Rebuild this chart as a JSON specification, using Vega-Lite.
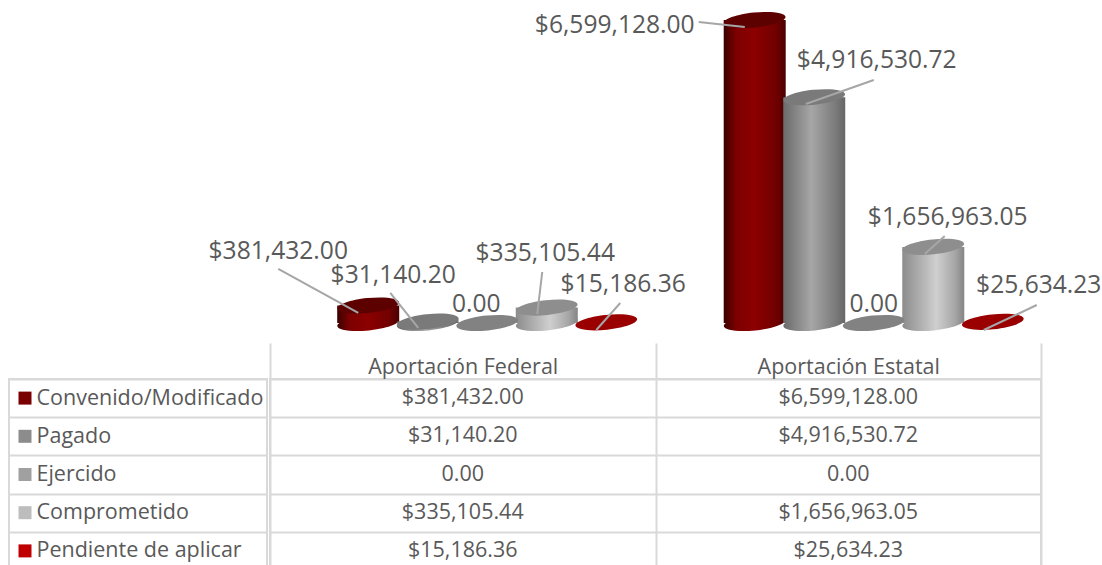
{"$schema":"https://vega.github.io/schema/vega-lite/v6.json","padding":0,"spacing":0,"background":"white","config":{"view":{"stroke":null},"font":"Open Sans","concat":{"spacing":0}},
"resolve":{"scale":{"color":"independent"}},
"datasets":{"d":[
{"group":"Aportación Federal","series":"Convenido/Modificado","value":381432.00,"label":"$381,432.00"},
{"group":"Aportación Federal","series":"Pagado","value":31140.20,"label":"$31,140.20"},
{"group":"Aportación Federal","series":"Ejercido","value":0,"label":"0.00"},
{"group":"Aportación Federal","series":"Comprometido","value":335105.44,"label":"$335,105.44"},
{"group":"Aportación Federal","series":"Pendiente de aplicar","value":15186.36,"label":"$15,186.36"},
{"group":"Aportación Estatal","series":"Convenido/Modificado","value":6599128.00,"label":"$6,599,128.00"},
{"group":"Aportación Estatal","series":"Pagado","value":4916530.72,"label":"$4,916,530.72"},
{"group":"Aportación Estatal","series":"Ejercido","value":0,"label":"0.00"},
{"group":"Aportación Estatal","series":"Comprometido","value":1656963.05,"label":"$1,656,963.05"},
{"group":"Aportación Estatal","series":"Pendiente de aplicar","value":25634.23,"label":"$25,634.23"}
]},
"data":{"name":"d"},
"vconcat":[
{"width":1102,"height":341,
"encoding":{
"x":{"field":"group","type":"nominal","axis":null,"sort":["Aportación Federal","Aportación Estatal"],"scale":{"range":[294,1067],"paddingInner":0.23,"paddingOuter":0.115}},
"y":{"field":"value","type":"quantitative","axis":null,"scale":{"domain":[-392200,7034600],"nice":false,"zero":false}}},
"layer":[
{"encoding":{"xOffset":{"field":"series","type":"nominal","sort":["Convenido/Modificado","Pagado","Ejercido","Comprometido","Pendiente de aplicar"],"scale":{"paddingInner":0,"paddingOuter":0}}},
"layer":[
{"transform":[{"filter":"datum.series=='Convenido/Modificado'"}],"layer":[
{"mark":{"type":"point","filled":true,"opacity":1,"size":3844,"shape":"M-0.995,0.105A1,0.24,-6,1,1,0.995,-0.105A1,0.24,-6,1,1,-0.995,0.105Z","fill":{"x1":0,"x2":1,"y1":0,"y2":0,"gradient":"linear","stops":[{"offset":0,"color":"#3a0000"},{"offset":0.2,"color":"#7d0000"},{"offset":0.5,"color":"#8c0000"},{"offset":0.85,"color":"#700000"},{"offset":1,"color":"#4a0000"}]}},"encoding":{"y":{"datum":0}}},
{"mark":{"type":"bar","width":62,"fill":{"x1":0,"x2":1,"y1":0,"y2":0,"gradient":"linear","stops":[{"offset":0,"color":"#3a0000"},{"offset":0.2,"color":"#7d0000"},{"offset":0.5,"color":"#8c0000"},{"offset":0.85,"color":"#700000"},{"offset":1,"color":"#4a0000"}]}},"encoding":{"y":{"field":"value","type":"quantitative","stack":null},"y2":{"datum":0}}}]},
{"transform":[{"filter":"datum.series=='Pagado'"}],"layer":[
{"mark":{"type":"point","filled":true,"opacity":1,"size":3844,"shape":"M-0.995,0.105A1,0.24,-6,1,1,0.995,-0.105A1,0.24,-6,1,1,-0.995,0.105Z","fill":{"x1":0,"x2":1,"y1":0,"y2":0,"gradient":"linear","stops":[{"offset":0,"color":"#6a6a6a"},{"offset":0.45,"color":"#a6a6a6"},{"offset":0.85,"color":"#7a7a7a"},{"offset":1,"color":"#666666"}]}},"encoding":{"y":{"datum":0}}},
{"mark":{"type":"bar","width":62,"fill":{"x1":0,"x2":1,"y1":0,"y2":0,"gradient":"linear","stops":[{"offset":0,"color":"#6a6a6a"},{"offset":0.45,"color":"#a6a6a6"},{"offset":0.85,"color":"#7a7a7a"},{"offset":1,"color":"#666666"}]}},"encoding":{"y":{"field":"value","type":"quantitative","stack":null},"y2":{"datum":0}}}]},
{"transform":[{"filter":"datum.series=='Comprometido'"}],"layer":[
{"mark":{"type":"point","filled":true,"opacity":1,"size":3844,"shape":"M-0.995,0.105A1,0.24,-6,1,1,0.995,-0.105A1,0.24,-6,1,1,-0.995,0.105Z","fill":{"x1":0,"x2":1,"y1":0,"y2":0,"gradient":"linear","stops":[{"offset":0,"color":"#8c8c8c"},{"offset":0.55,"color":"#cfcfcf"},{"offset":0.85,"color":"#a6a6a6"},{"offset":1,"color":"#858585"}]}},"encoding":{"y":{"datum":0}}},
{"mark":{"type":"bar","width":62,"fill":{"x1":0,"x2":1,"y1":0,"y2":0,"gradient":"linear","stops":[{"offset":0,"color":"#8c8c8c"},{"offset":0.55,"color":"#cfcfcf"},{"offset":0.85,"color":"#a6a6a6"},{"offset":1,"color":"#858585"}]}},"encoding":{"y":{"field":"value","type":"quantitative","stack":null},"y2":{"datum":0}}}]},
{"mark":{"type":"point","filled":true,"opacity":1,"size":3844,"shape":"M-0.995,0.105A1,0.24,-6,1,1,0.995,-0.105A1,0.24,-6,1,1,-0.995,0.105Z"},
"encoding":{"color":{"field":"series","type":"nominal","legend":null,"scale":{"domain":["Convenido/Modificado","Pagado","Ejercido","Comprometido","Pendiente de aplicar"],"range":["#5c0000","#7a7a7a","#828282","#8e8e8e","#9a0000"]}}}}
]},
{"layer":[
{"transform":[{"filter":"datum.label=='$381,432.00'"}],"mark":{"type":"text","fontSize":24.6,"color":"#595959","dx":-209,"dy":-53.5},"encoding":{"text":{"field":"label"}}},
{"transform":[{"filter":"datum.label=='$31,140.20'"}],"mark":{"type":"text","fontSize":24.6,"color":"#595959","dx":-94,"dy":-45.6},"encoding":{"text":{"field":"label"}}},
{"transform":[{"filter":"datum.label=='0.00'&&datum.group=='Aportación Federal'"}],"mark":{"type":"text","fontSize":24.6,"color":"#595959","dx":-11,"dy":-18},"encoding":{"text":{"field":"label"}}},
{"transform":[{"filter":"datum.label=='$335,105.44'"}],"mark":{"type":"text","fontSize":24.6,"color":"#595959","dx":58,"dy":-53.6},"encoding":{"text":{"field":"label"}}},
{"transform":[{"filter":"datum.label=='$15,186.36'"}],"mark":{"type":"text","fontSize":24.6,"color":"#595959","dx":136,"dy":-37.3},"encoding":{"text":{"field":"label"}}},
{"transform":[{"filter":"datum.label=='$6,599,128.00'"}],"mark":{"type":"text","fontSize":24.6,"color":"#595959","dx":-259,"dy":6},"encoding":{"text":{"field":"label"}}},
{"transform":[{"filter":"datum.label=='$4,916,530.72'"}],"mark":{"type":"text","fontSize":24.6,"color":"#595959","dx":3,"dy":-36.3},"encoding":{"text":{"field":"label"}}},
{"transform":[{"filter":"datum.label=='0.00'&&datum.group=='Aportación Estatal'"}],"mark":{"type":"text","fontSize":24.6,"color":"#595959","dx":0,"dy":-18},"encoding":{"text":{"field":"label"}}},
{"transform":[{"filter":"datum.label=='$1,656,963.05'"}],"mark":{"type":"text","fontSize":24.6,"color":"#595959","dx":74,"dy":-29},"encoding":{"text":{"field":"label"}}},
{"transform":[{"filter":"datum.label=='$25,634.23'"}],"mark":{"type":"text","fontSize":24.6,"color":"#595959","dx":165,"dy":-35.8},"encoding":{"text":{"field":"label"}}},
{"transform":[{"filter":"datum.label=='$381,432.00'"}],"mark":{"type":"rule","color":"#a6a6a6","strokeWidth":2,"xOffset":-209,"yOffset":-36.5,"x2Offset":-129,"y2Offset":7.5},"encoding":{"x2":{"field":"group"},"y2":{"field":"value"}}},
{"transform":[{"filter":"datum.label=='$31,140.20'"}],"mark":{"type":"rule","color":"#a6a6a6","strokeWidth":2,"xOffset":-97,"yOffset":-28.6,"x2Offset":-69,"y2Offset":6.4},"encoding":{"x2":{"field":"group"},"y2":{"field":"value"}}},
{"transform":[{"filter":"datum.label=='$335,105.44'"}],"mark":{"type":"rule","color":"#a6a6a6","strokeWidth":2,"xOffset":55,"yOffset":-35.6,"x2Offset":50,"y2Offset":6.4},"encoding":{"x2":{"field":"group"},"y2":{"field":"value"}}},
{"transform":[{"filter":"datum.label=='$15,186.36'"}],"mark":{"type":"rule","color":"#a6a6a6","strokeWidth":2,"xOffset":133,"yOffset":-19.3,"x2Offset":109,"y2Offset":7.7},"encoding":{"x2":{"field":"group"},"y2":{"field":"value"}}},
{"transform":[{"filter":"datum.label=='$6,599,128.00'"}],"mark":{"type":"rule","color":"#a6a6a6","strokeWidth":2,"xOffset":-175,"yOffset":2,"x2Offset":-129,"y2Offset":7},"encoding":{"x2":{"field":"group"},"y2":{"field":"value"}}},
{"transform":[{"filter":"datum.label=='$4,916,530.72'"}],"mark":{"type":"rule","color":"#a6a6a6","strokeWidth":2,"xOffset":0,"yOffset":-17.3,"x2Offset":-68,"y2Offset":6.7},"encoding":{"x2":{"field":"group"},"y2":{"field":"value"}}},
{"transform":[{"filter":"datum.label=='$1,656,963.05'"}],"mark":{"type":"rule","color":"#a6a6a6","strokeWidth":2,"xOffset":71,"yOffset":-11,"x2Offset":51,"y2Offset":7},"encoding":{"x2":{"field":"group"},"y2":{"field":"value"}}},
{"transform":[{"filter":"datum.label=='$25,634.23'"}],"mark":{"type":"rule","color":"#a6a6a6","strokeWidth":2,"xOffset":163,"yOffset":-16.8,"x2Offset":110,"y2Offset":8.2},"encoding":{"x2":{"field":"group"},"y2":{"field":"value"}}}
]}
]},
{"spacing":0,"hconcat":[
{"width":8,"height":191,"data":{"values":[]},"mark":{"type":"text"},"encoding":{}},
{"width":258,"height":191,"view":{"stroke":"#d9d9d9","strokeWidth":2},
"transform":[{"filter":"datum.group=='Aportación Federal'"}],
"mark":{"type":"point","shape":"square","filled":true,"opacity":1,"size":169,"xOffset":-113},
"encoding":{
"y":{"field":"series","type":"nominal","sort":["Convenido/Modificado","Pagado","Ejercido","Comprometido","Pendiente de aplicar"],"title":null,"scale":{"paddingInner":0,"paddingOuter":0},"axis":{"orient":"left","domain":false,"ticks":false,"grid":true,"tickBand":"extent","gridColor":"#d9d9d9","gridWidth":2,"labelAlign":"left","labelPadding":-27,"labelFontSize":21.5,"labelColor":"#595959","labelFont":"Open Sans","labelLimit":300}},
"color":{"field":"series","type":"nominal","legend":null,"scale":{"domain":["Convenido/Modificado","Pagado","Ejercido","Comprometido","Pendiente de aplicar"],"range":["#7b0000","#8c8c8c","#a0a0a0","#bdbdbd","#c00000"]}}}},
{"width":771,"height":191,"view":{"stroke":"#d9d9d9","strokeWidth":2},
"mark":{"type":"text","fontSize":21.5,"color":"#595959"},
"encoding":{
"x":{"field":"group","type":"nominal","sort":["Aportación Federal","Aportación Estatal"],"title":null,"scale":{"paddingInner":0,"paddingOuter":0},"axis":{"orient":"top","domain":false,"labelAngle":0,"grid":true,"tickBand":"extent","gridColor":"#d9d9d9","gridWidth":2,"tickColor":"#d9d9d9","tickWidth":2,"tickSize":36,"labelPadding":-35,"labelFontSize":21.5,"labelColor":"#595959","labelFont":"Open Sans","labelLimit":300}},
"y":{"field":"series","type":"nominal","sort":["Convenido/Modificado","Pagado","Ejercido","Comprometido","Pendiente de aplicar"],"axis":{"title":null,"labels":false,"ticks":false,"domain":false,"grid":true,"tickBand":"extent","gridColor":"#d9d9d9","gridWidth":2},"scale":{"paddingInner":0,"paddingOuter":0}},
"text":{"field":"label"}}}
]}
]}
